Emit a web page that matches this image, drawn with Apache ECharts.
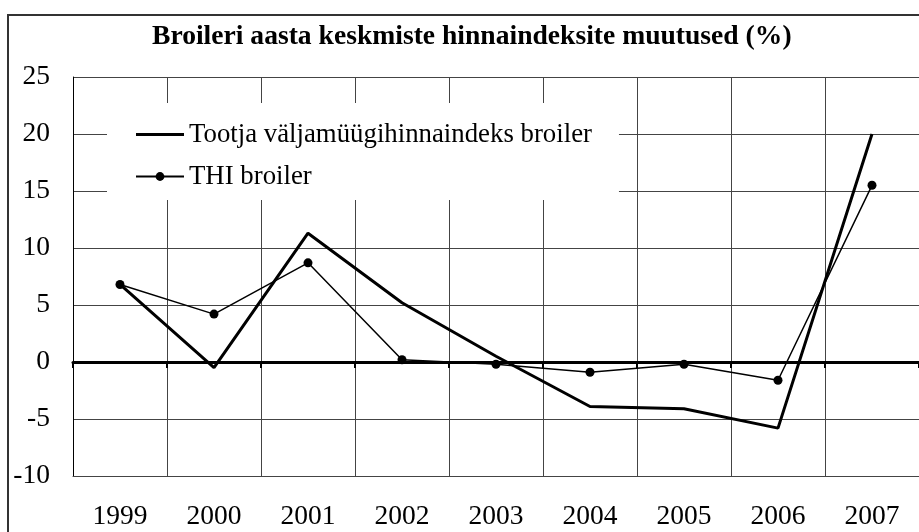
<!DOCTYPE html>
<html lang="et">
<head>
    <meta charset="UTF-8">
    <title>Broileri hinnaindeksid</title>
    <script src="https://cdn.jsdelivr.net/npm/echarts@6/dist/echarts.min.js"></script>
    <style>
        html, body { margin: 0; padding: 0; background: #fff; }
        #main { width: 919px; height: 532px; }
    </style>
</head>
<body>
<div id="main"></div>
<script>
    // andmed
    var years = ['1999', '2000', '2001', '2002', '2003', '2004', '2005', '2006', '2007'];
    var tootjaIndeks = [6.8, -0.5, 11.3, 5.2, 0.5, -3.9, -4.1, -5.8, 20.0];
    var thiIndeks = [6.8, 4.2, 8.7, 0.2, -0.2, -0.9, -0.2, -1.6, 15.5];
    var yTicks = { min: -10, max: 25, step: 5 };

    var FONT = 'Liberation Serif';
    var myChart = echarts.init(document.getElementById('main'));

    var option = {
        backgroundColor: '#fff',
        animation: false,
        title: {
            text: 'Broileri aasta keskmiste hinnaindeksite muutused (%)',
            left: 152,
            top: 23,
            padding: 0,
            textStyle: { fontFamily: FONT, fontSize: 27.6, fontWeight: 'bold', color: '#000' }
        },
        legend: {
            orient: 'vertical',
            left: 107,
            top: 103,
            padding: [18, 27, 10, 28],
            backgroundColor: '#fff',
            itemWidth: 48,
            itemHeight: 11,
            itemGap: 15,
            textStyle: { fontFamily: FONT, fontSize: 26.8, color: '#000', lineHeight: 26 },
            data: [
                { name: 'Tootja väljamüügihinnaindeks broiler', icon: 'path://M0,0 L48,0 L48,3 L0,3 Z' },
                'THI broiler'
            ]
        },
        grid: {
            left: 73,
            top: 77,
            width: 850,
            height: 399
        },
        xAxis: [
            {   // alumised sildid + vertikaalsed jooned
                type: 'category',
                position: 'bottom',
                boundaryGap: true,
                data: years,
                axisLine: { onZero: false, lineStyle: { color: '#444', width: 1 } },
                axisTick: { show: false },
                axisLabel: { margin: 27, fontFamily: FONT, fontSize: 27.5, color: '#000' },
                splitLine: { show: true, lineStyle: { color: '#444', width: 1 } }
            },
            {   // nulltelg
                type: 'category',
                position: 'bottom',
                boundaryGap: true,
                data: years,
                axisLine: { onZero: true, lineStyle: { color: '#000', width: 3 } },
                axisTick: { show: true, inside: false, length: 6, lineStyle: { color: '#000', width: 2 } },
                axisLabel: { show: false },
                splitLine: { show: false }
            }
        ],
        yAxis: {
            type: 'value',
            min: yTicks.min,
            max: yTicks.max,
            interval: yTicks.step,
            axisLine: { show: true, lineStyle: { color: '#000', width: 1 } },
            axisTick: { show: false },
            axisLabel: { margin: 23, fontFamily: FONT, fontSize: 27.5, color: '#000' },
            splitLine: { show: true, lineStyle: { color: '#444', width: 1 } }
        },
        series: [
            {
                name: 'Tootja väljamüügihinnaindeks broiler',
                type: 'line',
                xAxisIndex: 0,
                data: tootjaIndeks,
                symbol: 'none',
                lineStyle: { color: '#000', width: 3 },
                itemStyle: { color: '#000' }
            },
            {
                name: 'THI broiler',
                type: 'line',
                xAxisIndex: 0,
                data: thiIndeks,
                symbol: 'circle',
                symbolSize: 9,
                lineStyle: { color: '#000', width: 1.5 },
                itemStyle: { color: '#000' }
            }
        ],
        graphic: [
            {   // välimine raam
                type: 'rect',
                silent: true,
                shape: { x: 8, y: 15, width: 1000, height: 1000 },
                style: { fill: 'none', stroke: '#333', lineWidth: 2 },
                z: 100
            }
        ]
    };
    myChart.setOption(option);
</script>
</body>
</html>
